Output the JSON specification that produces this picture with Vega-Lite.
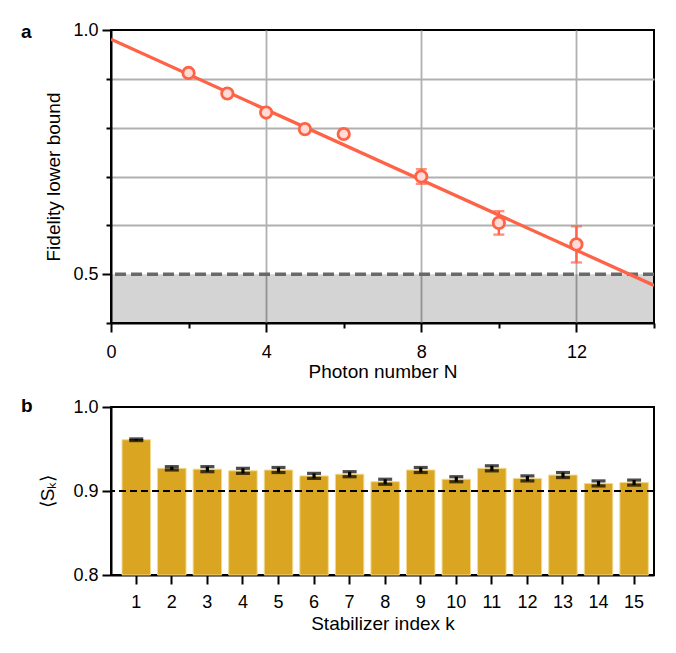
{
  "$schema": "https://vega.github.io/schema/vega-lite/v6.json",
  "background": "white",
  "padding": {"left": 20, "top": 20, "right": 16, "bottom": 4},
  "config": {
    "font": "Liberation Sans",
    "view": {"stroke": "black", "strokeWidth": 2},
    "axis": {
      "labelFont": "Liberation Sans", "labelFontSize": 18, "labelColor": "black",
      "titleFont": "Liberation Sans", "titleFontSize": 19, "titleFontWeight": "normal", "titleColor": "black",
      "domainColor": "black", "domainWidth": 2, "tickColor": "black", "tickWidth": 2, "tickSize": 9,
      "grid": false, "labelPadding": 4, "labelOverlap": false, "labelFlush": false
    },
    "concat": {"spacing": 14}
  },
  "vconcat": [
    {
      "width": 543,
      "height": 293,
      "title": {"text": "a", "anchor": "start", "frame": "group", "dx": -90, "dy": 36, "fontSize": 19, "fontWeight": "bold", "font": "Liberation Sans", "color": "black", "offset": 0, "baseline": "alphabetic"},
      "layer": [
        {
          "data": {"values": [{}]},
          "mark": {"type": "rect", "fill": "black", "opacity": 0.17},
          "encoding": {
            "x": {"datum": 0, "type": "quantitative", "title": "Photon number N", "scale": {"domain": [0, 14], "nice": false},
              "axis": {"values": [0, 2, 4, 6, 8, 10, 12, 14],
                "labelExpr": "(datum.value % 4 == 0 && datum.value < 14) ? datum.label : ''",
                "grid": true, "gridColor": "#b0b0b0", "gridWidth": 1.8,
                "gridOpacity": {"condition": {"test": "datum.value % 4 == 0 && datum.value > 0 && datum.value < 14", "value": 1}, "value": 0},
                "tickSize": {"condition": {"test": "datum.value % 4 == 0 && datum.value < 14", "value": 9}, "value": 5},
                "labelPadding": 11, "titlePadding": 1}},
            "x2": {"datum": 14},
            "y": {"datum": 0.4, "type": "quantitative", "title": "Fidelity lower bound", "scale": {"domain": [0.4, 1.0], "nice": false, "zero": false},
              "axis": {"values": [0.4, 0.5, 0.6, 0.7, 0.8, 0.9, 1.0], "format": ".1f",
                "labelExpr": "(datum.value == 0.5 || datum.value == 1) ? datum.label : ''",
                "grid": true, "gridColor": "#b0b0b0", "gridWidth": 1.8,
                "gridOpacity": {"condition": {"test": "datum.value > 0.55 && datum.value < 0.95", "value": 1}, "value": 0},
                "tickSize": {"condition": {"test": "datum.value == 0.5 || datum.value == 1", "value": 9}, "value": 5},
                "titlePadding": 9}},
            "y2": {"datum": 0.5}
          }
        },
        {
          "data": {"values": [{}]},
          "mark": {"type": "rule", "color": "#696969", "strokeWidth": 3.5, "strokeDash": [11, 5]},
          "encoding": {"y": {"datum": 0.5, "type": "quantitative", "title": "Fidelity lower bound"}}
        },
        {
          "data": {"values": [{"N": 0, "F": 0.981}, {"N": 14, "F": 0.477}]},
          "mark": {"type": "line", "color": "#ff6347", "strokeWidth": 3.3, "clip": true},
          "encoding": {
            "x": {"field": "N", "type": "quantitative", "title": "Photon number N"},
            "y": {"field": "F", "type": "quantitative", "title": "Fidelity lower bound"}
          }
        },
        {
          "data": {"values": [
            {"N": 2, "F": 0.912, "err": 0.004}, {"N": 3, "F": 0.870, "err": 0.004},
            {"N": 4, "F": 0.831, "err": 0.004}, {"N": 5, "F": 0.797, "err": 0.004},
            {"N": 6, "F": 0.787, "err": 0.005}, {"N": 8, "F": 0.700, "err": 0.015},
            {"N": 10, "F": 0.605, "err": 0.024}, {"N": 12, "F": 0.561, "err": 0.037}
          ]},
          "layer": [
            {
              "mark": {"type": "errorbar", "ticks": true, "size": 11, "thickness": 2.4, "color": "#ff6347"},
              "encoding": {
                "x": {"field": "N", "type": "quantitative", "title": "Photon number N"},
                "y": {"field": "F", "type": "quantitative", "title": "Fidelity lower bound"},
                "yError": {"field": "err"}
              }
            },
            {
              "mark": {"type": "point", "shape": "circle", "filled": true, "fill": "#ffdcd6", "stroke": "#ff6347", "strokeWidth": 2.8, "size": 130, "opacity": 1},
              "encoding": {
                "x": {"field": "N", "type": "quantitative", "title": "Photon number N"},
                "y": {"field": "F", "type": "quantitative", "title": "Fidelity lower bound"}
              }
            }
          ]
        }
      ]
    },
    {
      "width": 543,
      "height": 168,
      "title": {"text": "b", "anchor": "start", "frame": "group", "dx": -90, "dy": 33, "fontSize": 19, "fontWeight": "bold", "font": "Liberation Sans", "color": "black", "offset": 0, "baseline": "alphabetic"},
      "data": {"values": [
        {"k": 1, "S": 0.961, "err": 0.001}, {"k": 2, "S": 0.927, "err": 0.002},
        {"k": 3, "S": 0.926, "err": 0.003}, {"k": 4, "S": 0.924, "err": 0.003},
        {"k": 5, "S": 0.925, "err": 0.003}, {"k": 6, "S": 0.918, "err": 0.003},
        {"k": 7, "S": 0.920, "err": 0.003}, {"k": 8, "S": 0.911, "err": 0.003},
        {"k": 9, "S": 0.925, "err": 0.003}, {"k": 10, "S": 0.914, "err": 0.003},
        {"k": 11, "S": 0.927, "err": 0.003}, {"k": 12, "S": 0.915, "err": 0.003},
        {"k": 13, "S": 0.919, "err": 0.003}, {"k": 14, "S": 0.909, "err": 0.003},
        {"k": 15, "S": 0.910, "err": 0.003}
      ]},
      "layer": [
        {
          "mark": {"type": "bar", "color": "#DAA520", "stroke": "#f0d890", "strokeWidth": 1},
          "encoding": {
            "x": {"field": "k", "type": "ordinal", "title": "Stabilizer index k",
              "scale": {"paddingInner": 0.2, "paddingOuter": 0.235, "align": 0.66},
              "axis": {"labelAngle": 0, "labelPadding": 9, "titlePadding": 3}},
            "y": {"field": "S", "type": "quantitative", "title": "⟨Sₖ⟩",
              "scale": {"domain": [0.8, 1.0], "nice": false, "zero": false},
              "axis": {"values": [0.8, 0.9, 1.0], "format": ".1f", "titleX": -54}},
            "y2": {"datum": 0.8}
          }
        },
        {
          "mark": {"type": "errorbar", "ticks": true, "size": 14, "thickness": 3.2, "color": "black"},
          "encoding": {
            "x": {"field": "k", "type": "ordinal", "title": "Stabilizer index k"},
            "y": {"field": "S", "type": "quantitative", "title": "⟨Sₖ⟩"},
            "yError": {"field": "err"}
          }
        },
        {
          "data": {"values": [{}]},
          "mark": {"type": "rule", "color": "black", "strokeWidth": 2, "strokeDash": [7, 4]},
          "encoding": {"y": {"datum": 0.9, "type": "quantitative", "title": "⟨Sₖ⟩"}}
        }
      ]
    }
  ]
}
